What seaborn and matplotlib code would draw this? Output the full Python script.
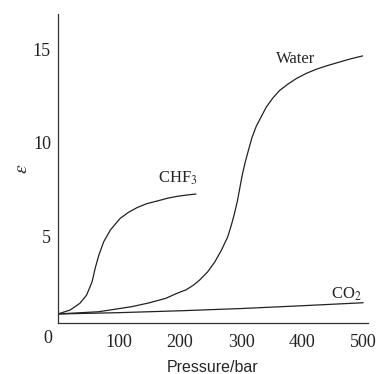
import matplotlib
matplotlib.use('Agg')
import matplotlib.pyplot as plt
import seaborn as sns
import pandas as pd

# values (pressure in bar, dielectric constant)
water_p = [0, 67, 121, 149, 177, 194, 210, 222, 232, 245, 257, 268, 278, 284, 289, 294,
           298, 302, 307, 312, 318, 325, 333, 341, 352, 363, 377, 391, 407, 424, 443, 462, 480, 499]
water_eps = [0.86, 0.98, 1.25, 1.45, 1.7, 1.95, 2.15, 2.4, 2.67, 3.1, 3.64, 4.28, 4.97, 5.6, 6.2, 6.9,
             7.6, 8.3, 9.0, 9.6, 10.3, 10.9, 11.4, 11.9, 12.4, 12.8, 13.15, 13.45, 13.72, 13.95, 14.15, 14.33, 14.5, 14.65]

chf3_p = [0, 20, 36, 47, 56, 61, 67, 75, 86, 102, 116, 130, 145, 163, 180, 196, 212, 226]
chf3_eps = [0.86, 1.07, 1.43, 1.87, 2.58, 3.3, 4.0, 4.72, 5.35, 5.97, 6.3, 6.55, 6.75, 6.9, 7.05, 7.15, 7.22, 7.27]

co2_p = [0, 100, 200, 300, 400, 500]
co2_eps = [0.86, 0.93, 1.03, 1.15, 1.3, 1.46]

x_ticks = [100, 200, 300, 400, 500]
y_ticks = [5, 10, 15]

sns.set_style('white')
plt.rcParams['font.family'] = ['Liberation Serif', 'DejaVu Serif']
plt.rcParams['mathtext.fontset'] = 'stix'

fig = plt.figure(figsize=(3.81, 3.74), dpi=100)
ax = fig.add_axes([0.152, 0.136, 0.814, 0.827])

for p, e in [(water_p, water_eps), (chf3_p, chf3_eps), (co2_p, co2_eps)]:
    d = pd.DataFrame({'p': p, 'eps': e})
    sns.lineplot(data=d, x='p', y='eps', ax=ax, color='#222222', lw=0.9,
                 estimator=None, sort=False)

ax.set_xlim(0, 508)
ax.set_ylim(0.37, 16.9)
ax.set_xticks(x_ticks)
ax.set_yticks(y_ticks)
ax.tick_params(length=0, labelsize=13, colors='#222222')
ax.tick_params(axis='x', pad=8)
ax.tick_params(axis='y', pad=5)
ax.annotate('0', xy=(0, 0), xycoords='axes fraction', xytext=(-10, -15),
            textcoords='offset pixels', ha='center', va='center', fontsize=13, color='#222222')

sns.despine(ax=ax)
for s in ['left', 'bottom']:
    ax.spines[s].set_color('#333333')
    ax.spines[s].set_linewidth(0.9)

ax.set_xlabel('Pressure/bar', family='Liberation Sans', fontsize=11.5, labelpad=6)
ax.set_ylabel(r'$\varepsilon$', fontsize=14, labelpad=1)

ax.text(390, 14.5, 'Water', fontsize=12, ha='center', va='center')
ax.text(196, 8.1, r'CHF$_3$', fontsize=12, ha='center', va='center')
ax.text(472, 1.9, r'CO$_2$', fontsize=12, ha='center', va='center')

fig.savefig('out.png', dpi=100)
